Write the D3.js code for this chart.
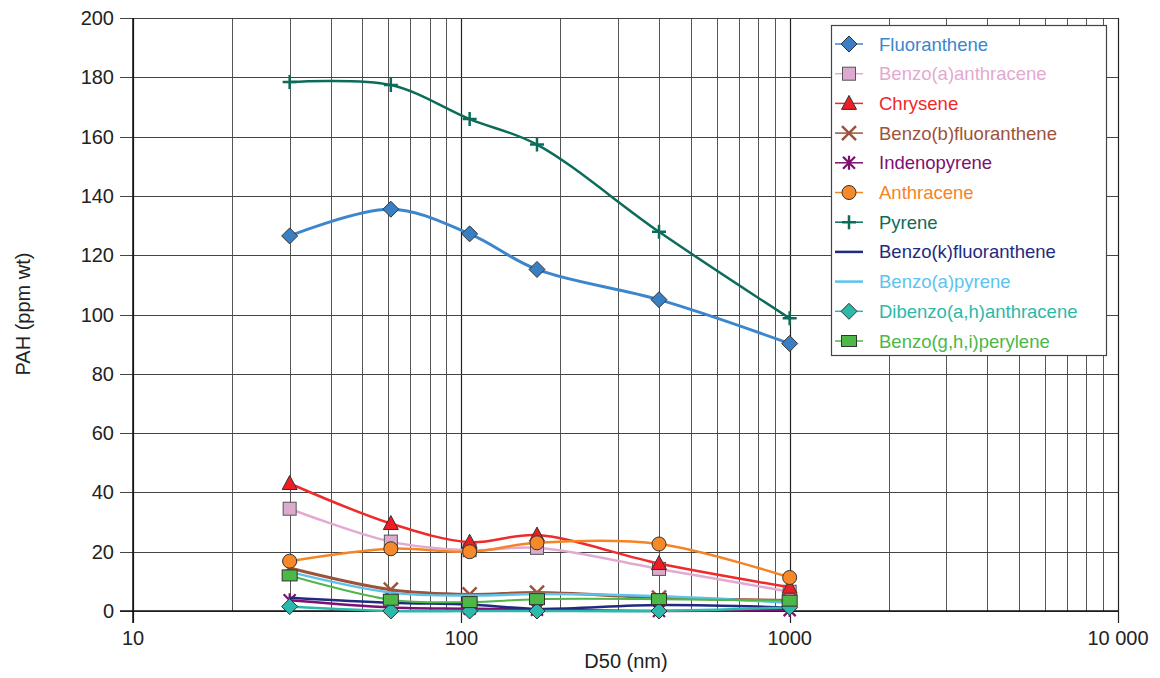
<!DOCTYPE html>
<html>
<head>
<meta charset="utf-8">
<script src="https://cdn.jsdelivr.net/npm/d3@7"></script>
<style>
  body { margin: 0; background: #fff; }
  svg text { font-family: "Liberation Sans", Arial, sans-serif; }
</style>
</head>
<body>
<svg id="chart" width="1160" height="678"></svg>
<script>
"use strict";

// D50 (nm) of each stage
const d50 = [30, 61, 106, 170, 400, 1000];

// PAH (ppm wt) per compound
const fluoranthene        = [126.5, 135.5, 127.2, 115.2, 105.0, 90.2];
const benzoAAnthracene    = [34.5, 23.4, 20.5, 21.3, 14.2, 6.5];
const chrysene            = [43.0, 29.5, 23.2, 25.6, 16.0, 8.0];
const benzoBFluoranthene  = [14.5, 7.2, 5.6, 6.2, 4.5, 3.6];
const indenopyrene        = [3.6, 1.2, 0.8, 0.4, 0.0, 0.3];
const anthracene          = [16.8, 21.0, 20.0, 23.0, 22.6, 11.3];
const pyrene              = [178.4, 177.4, 165.9, 157.3, 127.9, 98.7];
const benzoKFluoranthene  = [4.5, 2.8, 2.2, 0.7, 2.0, 1.2];
const benzoAPyrene        = [13.2, 6.2, 5.2, 5.7, 5.0, 2.8];
const dibenzoAHAnthracene = [1.5, 0.0, 0.0, 0.0, 0.0, 1.2];
const benzoGHIPerylene    = [12.0, 3.8, 3.0, 4.0, 4.0, 3.5];

const xTicks = [10, 100, 1000, 10000];
const xTickLabels = ["10", "100", "1000", "10 000"];
const yTicks = [0, 20, 40, 60, 80, 100, 120, 140, 160, 180, 200];

const series = [
  {name: "Fluoranthene",           values: fluoranthene,        color: "#3b86cc", fill: "#3a7fc4", marker: "diamond",  width: 3},
  {name: "Benzo(a)anthracene",     values: benzoAAnthracene,    color: "#e3aad0", fill: "#dcaacf", marker: "square",   width: 2.5},
  {name: "Chrysene",               values: chrysene,            color: "#ee2a2a", fill: "#ee1c25", marker: "triangle", width: 2.5},
  {name: "Benzo(b)fluoranthene",   values: benzoBFluoranthene,  color: "#9c533a", fill: "#9c533a", marker: "cross",    width: 3},
  {name: "Indenopyrene",           values: indenopyrene,        color: "#7d1070", fill: "#7d1070", marker: "star",     width: 2.5},
  {name: "Anthracene",             values: anthracene,          color: "#f58426", fill: "#f68a2a", marker: "circle",   width: 2.5},
  {name: "Pyrene",                 values: pyrene,              color: "#0c6c5a", fill: "#0c6c5a", marker: "plus",     width: 2.5},
  {name: "Benzo(k)fluoranthene",   values: benzoKFluoranthene,  color: "#1f2a80", fill: "#1f2a80", marker: "none",     width: 2.5},
  {name: "Benzo(a)pyrene",         values: benzoAPyrene,        color: "#5cc3ee", fill: "#5cc3ee", marker: "none",     width: 2.5},
  {name: "Dibenzo(a,h)anthracene", values: dibenzoAHAnthracene, color: "#2cb8ab", fill: "#2cb8ab", marker: "diamond",  width: 2.5},
  {name: "Benzo(g,h,i)perylene",   values: benzoGHIPerylene,    color: "#4db748", fill: "#4db748", marker: "rect",     width: 2}
];

const svg = d3.select("#chart");
const plotLeft = 133, plotRight = 1118, plotTop = 18, plotBottom = 611;

const x = d3.scaleLog().domain([10, 10000]).range([plotLeft, plotRight]);
const y = d3.scaleLinear().domain([0, 200]).range([plotBottom, plotTop]);

// grid
let minor = [];
[10, 100, 1000].forEach(dec => { for (let k = 2; k <= 9; k++) minor.push(dec * k); });

const grid = svg.append("g");
grid.selectAll(".vmin").data(minor).enter().append("line")
  .attr("x1", d => Math.round(x(d)) + 0.5).attr("x2", d => Math.round(x(d)) + 0.5)
  .attr("y1", plotTop).attr("y2", plotBottom)
  .attr("stroke", "#555").attr("stroke-width", 1);
grid.selectAll(".vmaj").data(xTicks).enter().append("line")
  .attr("x1", d => Math.round(x(d)) + 0.5).attr("x2", d => Math.round(x(d)) + 0.5)
  .attr("y1", plotTop).attr("y2", plotBottom + 12)
  .attr("stroke", "#222").attr("stroke-width", 1.2);
grid.selectAll(".h").data(yTicks).enter().append("line")
  .attr("x1", plotLeft - 13).attr("x2", plotRight)
  .attr("y1", d => Math.round(y(d)) + 0.5).attr("y2", d => Math.round(y(d)) + 0.5)
  .attr("stroke", "#444").attr("stroke-width", 1);

// axis lines
svg.append("line").attr("x1", plotLeft).attr("x2", plotLeft).attr("y1", plotTop).attr("y2", plotBottom + 12)
  .attr("stroke", "#111").attr("stroke-width", 1.5);
svg.append("line").attr("x1", plotLeft - 13).attr("x2", plotRight).attr("y1", plotBottom).attr("y2", plotBottom)
  .attr("stroke", "#111").attr("stroke-width", 1.5);

// tick labels
svg.selectAll(".yl").data(yTicks).enter().append("text")
  .attr("x", 114).attr("y", d => y(d) + 7)
  .attr("text-anchor", "end").attr("font-size", 20).attr("fill", "#222")
  .text(d => d);
svg.selectAll(".xl").data(xTicks).enter().append("text")
  .attr("x", d => x(d)).attr("y", 645)
  .attr("text-anchor", "middle").attr("font-size", 20).attr("fill", "#222")
  .text((d, i) => xTickLabels[i]);

svg.append("text").attr("x", 626).attr("y", 668).attr("text-anchor", "middle")
  .attr("font-size", 20).attr("fill", "#222").text("D50 (nm)");
svg.append("text").attr("transform", "translate(30,314) rotate(-90)").attr("text-anchor", "middle")
  .attr("font-size", 20).attr("fill", "#222").text("PAH (ppm wt)");

// markers
function drawMarker(g, s, cx, cy) {
  const stroke = "#333";
  switch (s.marker) {
    case "diamond":
      g.append("path").attr("d", `M${cx},${cy - 8}L${cx + 8},${cy}L${cx},${cy + 8}L${cx - 8},${cy}Z`)
        .attr("fill", s.fill).attr("stroke", stroke).attr("stroke-width", 1);
      break;
    case "square":
      g.append("rect").attr("x", cx - 6.5).attr("y", cy - 6.5).attr("width", 13).attr("height", 13)
        .attr("fill", s.fill).attr("stroke", "#555").attr("stroke-width", 1);
      break;
    case "rect":
      g.append("rect").attr("x", cx - 7.5).attr("y", cy - 5.5).attr("width", 15).attr("height", 11)
        .attr("fill", s.fill).attr("stroke", stroke).attr("stroke-width", 1);
      break;
    case "triangle":
      g.append("path").attr("d", `M${cx},${cy - 8}L${cx + 7.5},${cy + 6}L${cx - 7.5},${cy + 6}Z`)
        .attr("fill", s.fill).attr("stroke", stroke).attr("stroke-width", 1);
      break;
    case "circle":
      g.append("circle").attr("cx", cx).attr("cy", cy).attr("r", 7)
        .attr("fill", s.fill).attr("stroke", stroke).attr("stroke-width", 1);
      break;
    case "cross":
      g.append("path").attr("d", `M${cx - 7},${cy - 7}L${cx + 7},${cy + 7}M${cx - 7},${cy + 7}L${cx + 7},${cy - 7}`)
        .attr("stroke", s.color).attr("stroke-width", 2.5).attr("fill", "none");
      break;
    case "plus":
      g.append("path").attr("d", `M${cx - 7},${cy}L${cx + 7},${cy}M${cx},${cy - 7}L${cx},${cy + 7}`)
        .attr("stroke", s.color).attr("stroke-width", 2.5).attr("fill", "none");
      break;
    case "star":
      g.append("path").attr("d", `M${cx - 6},${cy - 6}L${cx + 6},${cy + 6}M${cx - 6},${cy + 6}L${cx + 6},${cy - 6}M${cx},${cy - 7}L${cx},${cy + 7}`)
        .attr("stroke", s.color).attr("stroke-width", 2.2).attr("fill", "none");
      break;
  }
}

const line = d3.line()
  .x((d, i) => x(d50[i]))
  .y(d => y(d))
  .curve(d3.curveCatmullRom.alpha(0.5));

const plot = svg.append("g");
series.forEach(s => {
  const g = plot.append("g");
  g.append("path").datum(s.values).attr("d", line)
    .attr("fill", "none").attr("stroke", s.color).attr("stroke-width", s.width);
  s.values.forEach((v, i) => drawMarker(g, s, x(d50[i]), y(v)));
});

// legend
const legend = svg.append("g");
legend.append("rect").attr("x", 831.5).attr("y", 25.5).attr("width", 275).attr("height", 330)
  .attr("fill", "#fff").attr("stroke", "#444").attr("stroke-width", 1.2);
series.forEach((s, i) => {
  const ly = 44 + i * 29.7;
  const g = legend.append("g");
  g.append("line").attr("x1", 835).attr("x2", 863).attr("y1", ly).attr("y2", ly)
    .attr("stroke", s.color).attr("stroke-width", s.marker === "none" ? 2.5 : 1.5);
  drawMarker(g, s, 849, ly);
  g.append("text").attr("x", 879).attr("y", ly + 6.5).attr("font-size", 18.5)
    .attr("fill", s.color).text(s.name);
});
</script>
</body>
</html>
